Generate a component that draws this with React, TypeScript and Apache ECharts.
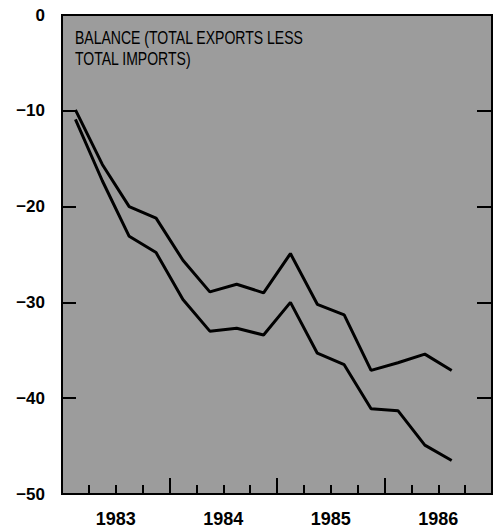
import React, { useEffect, useRef } from "react";
import * as echarts from "echarts";

const years = ["1983", "1984", "1985", "1986"];
const yTicks = [0, -10, -20, -30, -40, -50];
// quarterly values, 1983 Q1 .. 1986 Q3
const upperSeries = [-9.9, -15.6, -20.0, -21.2, -25.6, -28.9, -28.1, -29.0, -24.9, -30.2, -31.3, -37.1, -36.3, -35.4, -37.1];
const lowerSeries = [-10.9, -17.3, -23.1, -24.8, -29.7, -33.0, -32.7, -33.4, -30.0, -35.3, -36.5, -41.1, -41.3, -44.9, -46.5];
const titleLines = ["BALANCE (TOTAL EXPORTS LESS", "TOTAL IMPORTS)"];

const FONT = "'Liberation Sans', Arial, Helvetica, sans-serif";

export default function App() {
  const ref = useRef<HTMLDivElement>(null);
  useEffect(() => {
    document.body.style.margin = "0";
    const chart = echarts.init(ref.current!, null, { renderer: "svg" });
    const toPairs = (arr: number[]) => arr.map((v, i) => [i + 0.5, v]);
    const baseX = {
      type: "value" as const,
      min: 0,
      max: 16,
      position: "bottom" as const,
      axisLine: { show: false, onZero: false },
      splitLine: { show: false },
    };
    chart.setOption({
      animation: false,
      backgroundColor: "#ffffff",
      grid: {
        left: 62,
        right: 9,
        top: 15,
        bottom: 28,
        show: true,
        backgroundColor: "#9c9c9c",
        borderColor: "#000",
        borderWidth: 2,
      },
      xAxis: [
        {
          ...baseX,
          interval: 1,
          axisTick: { show: true, inside: true, length: 9, lineStyle: { color: "#000", width: 2 } },
          axisLabel: { show: false },
        },
        {
          ...baseX,
          interval: 4,
          axisTick: { show: true, inside: true, length: 16, lineStyle: { color: "#000", width: 2 } },
          axisLabel: { show: false },
        },
        {
          ...baseX,
          interval: 2,
          axisTick: { show: false },
          axisLabel: {
            show: true,
            margin: 16,
            color: "#000",
            fontFamily: FONT,
            fontWeight: "bold",
            fontSize: 18,
            formatter: (v: number) => (v % 4 === 2 ? years[(v - 2) / 4] : ""),
          },
        },
      ],
      yAxis: [
        {
          type: "value",
          min: -50,
          max: 0,
          interval: 10,
          position: "left",
          axisLine: { show: false, onZero: false },
          splitLine: { show: false },
          axisTick: { show: true, inside: true, length: 14, lineStyle: { color: "#000", width: 2 } },
          axisLabel: {
            show: true,
            margin: 17,
            color: "#000",
            fontFamily: FONT,
            fontWeight: "bold",
            fontSize: 17,
            formatter: (v: number) => (yTicks.includes(v) ? (v < 0 ? "\u2212" + Math.abs(v) : String(v)) : ""),
          },
        },
        {
          type: "value",
          min: -50,
          max: 0,
          interval: 10,
          position: "right",
          axisLine: { show: false, onZero: false },
          splitLine: { show: false },
          axisTick: { show: true, inside: true, length: 15, lineStyle: { color: "#000", width: 2 } },
          axisLabel: { show: false },
        },
      ],
      graphic: [
        {
          type: "group",
          x: 75,
          y: 27,
          scaleX: 0.78,
          children: [
            {
              type: "text",
              x: 0,
              y: 0,
              style: {
                text: titleLines.join("\n"),
                fill: "#000",
                font: "18px 'Liberation Sans', Arial, sans-serif",
                lineHeight: 21,
                verticalAlign: "top",
              },
            },
          ],
        },
      ],
      series: [
        {
          type: "line",
          xAxisIndex: 0,
          yAxisIndex: 0,
          data: toPairs(upperSeries),
          showSymbol: false,
          lineStyle: { color: "#000", width: 3 },
        },
        {
          type: "line",
          xAxisIndex: 0,
          yAxisIndex: 0,
          data: toPairs(lowerSeries),
          showSymbol: false,
          lineStyle: { color: "#000", width: 3 },
        },
      ],
    });
    return () => chart.dispose();
  }, []);
  return <div ref={ref} style={{ width: 501, height: 528 }} />;
}
